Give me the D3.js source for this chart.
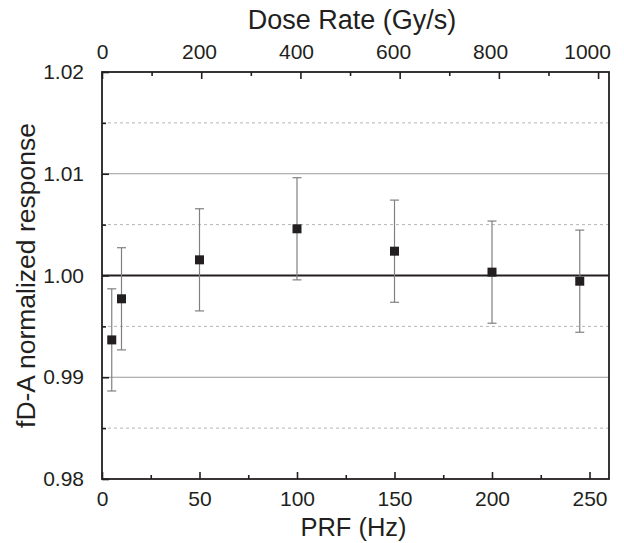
<!DOCTYPE html>
<html>
<head>
<meta charset="utf-8">
<script src="https://cdn.jsdelivr.net/npm/d3@7"></script>
<style>
  body { margin: 0; background: #fff; }
  text { font-family: "Liberation Sans", Arial, sans-serif; fill: #231f20; }
</style>
</head>
<body>
<svg id="chart" width="624" height="543"></svg>
<script>
// data
var prf = [5, 10, 50, 100, 150, 200, 245];
var response = [0.99367, 0.99771, 1.00154, 1.00459, 1.00239, 1.00033, 0.99944];
var errs = [0.00502, 0.00502, 0.00502, 0.00502, 0.00502, 0.00502, 0.00502];

var prfTicks = [0, 50, 100, 150, 200, 250];
var prfMinor = [25, 75, 125, 175, 225];
var doseTicks = [0, 200, 400, 600, 800, 1000];
var doseMinor = [100, 300, 500, 700, 900];
var yTicks = [0.98, 0.99, 1.00, 1.01, 1.02];
var yMinor = [0.985, 0.995, 1.005, 1.015];
var solidGrid = [0.99, 1.01];
var dashGrid = [0.985, 0.995, 1.005, 1.015];

var svg = d3.select("#chart");
// note: "top" is a reserved window global, so plot edges get their own names
var plotL = 102, plotR = 609, plotT = 72, plotB = 479;

var x = d3.scaleLinear().domain([0, 260]).range([plotL, plotR]);
var xTop = d3.scaleLinear().domain([0, 1022]).range([plotL, plotR]);
var y = d3.scaleLinear().domain([0.98, 1.02]).range([plotB, plotT]);

// grid lines
svg.selectAll("line.gs").data(solidGrid).enter().append("line")
    .attr("x1", plotL).attr("x2", plotR)
    .attr("y1", function(d) { return y(d); }).attr("y2", function(d) { return y(d); })
    .attr("stroke", "#9a9a9a").attr("stroke-width", 1);

svg.selectAll("line.gd").data(dashGrid).enter().append("line")
    .attr("x1", plotL).attr("x2", plotR)
    .attr("y1", function(d) { return y(d); }).attr("y2", function(d) { return y(d); })
    .attr("stroke", "#b5b5b5").attr("stroke-width", 1).attr("stroke-dasharray", "3,3");

// reference line at 1.00
svg.append("line")
    .attr("x1", plotL).attr("x2", plotR)
    .attr("y1", y(1)).attr("y2", y(1))
    .attr("stroke", "#231f20").attr("stroke-width", 1.8);

// error bars
var eb = svg.append("g").attr("stroke", "#808080").attr("stroke-width", 1.2);
prf.forEach(function(p, i) {
    var cx = x(p), y0 = y(response[i] - errs[i]), y1 = y(response[i] + errs[i]);
    eb.append("line").attr("x1", cx).attr("x2", cx).attr("y1", y0).attr("y2", y1);
    eb.append("line").attr("x1", cx - 4.5).attr("x2", cx + 4.5).attr("y1", y0).attr("y2", y0);
    eb.append("line").attr("x1", cx - 4.5).attr("x2", cx + 4.5).attr("y1", y1).attr("y2", y1);
});

// markers
svg.selectAll("rect.pt").data(prf).enter().append("rect")
    .attr("x", function(d) { return x(d) - 4.5; })
    .attr("y", function(d, i) { return y(response[i]) - 4.5; })
    .attr("width", 9).attr("height", 9)
    .attr("fill", "#231f20");

// axes: ticks point inward
var axisColor = "#231f20";
function styleAxis(g) {
    g.select(".domain").remove();
    g.selectAll(".tick line").attr("stroke", axisColor).attr("stroke-width", 1.6);
    g.selectAll(".tick text").attr("fill", axisColor)
        .style("font-family", "'Liberation Sans', Arial, sans-serif").style("font-size", "21px");
}

svg.append("g").attr("transform", "translate(0," + plotB + ")")
    .call(d3.axisBottom(x).tickValues(prfTicks).tickSizeInner(-7).tickSizeOuter(0).tickPadding(12)
        .tickFormat(d3.format("d")))
    .call(styleAxis);
svg.append("g").attr("transform", "translate(0," + plotB + ")")
    .call(d3.axisBottom(x).tickValues(prfMinor).tickSizeInner(-4).tickSizeOuter(0).tickFormat(""))
    .call(styleAxis);

var gTop = svg.append("g").attr("transform", "translate(0," + plotT + ")")
    .call(d3.axisTop(xTop).tickValues(doseTicks).tickSizeInner(-7).tickSizeOuter(0).tickPadding(13)
        .tickFormat(d3.format("d")))
    .call(styleAxis);
// in the original the top labels drift slightly left of their ticks
gTop.selectAll(".tick text").attr("dx", function(d) { return -d * 0.011; });
svg.append("g").attr("transform", "translate(0," + plotT + ")")
    .call(d3.axisTop(xTop).tickValues(doseMinor).tickSizeInner(-4).tickSizeOuter(0).tickFormat(""))
    .call(styleAxis);

svg.append("g").attr("transform", "translate(" + plotL + ",0)")
    .call(d3.axisLeft(y).tickValues(yTicks).tickSizeInner(-7).tickSizeOuter(0).tickPadding(18)
        .tickFormat(d3.format(".2f")))
    .call(styleAxis);
svg.append("g").attr("transform", "translate(" + plotL + ",0)")
    .call(d3.axisLeft(y).tickValues(yMinor).tickSizeInner(-4).tickSizeOuter(0).tickFormat(""))
    .call(styleAxis);

// frame
svg.append("rect")
    .attr("x", plotL).attr("y", plotT)
    .attr("width", plotR - plotL).attr("height", plotB - plotT)
    .attr("fill", "none").attr("stroke", axisColor).attr("stroke-width", 1.8);

// axis titles
svg.append("text").attr("x", (plotL + plotR) / 2 - 2).attr("y", 536)
    .attr("text-anchor", "middle").style("font-size", "25.5px").text("PRF (Hz)");
svg.append("text").attr("x", 352).attr("y", 29)
    .attr("text-anchor", "middle").style("font-size", "27px").text("Dose Rate (Gy/s)");
svg.append("text")
    .attr("transform", "translate(35," + ((plotT + plotB) / 2) + ") rotate(-90)")
    .attr("text-anchor", "middle").style("font-size", "26.5px").text("fD-A normalized response");
</script>
</body>
</html>
